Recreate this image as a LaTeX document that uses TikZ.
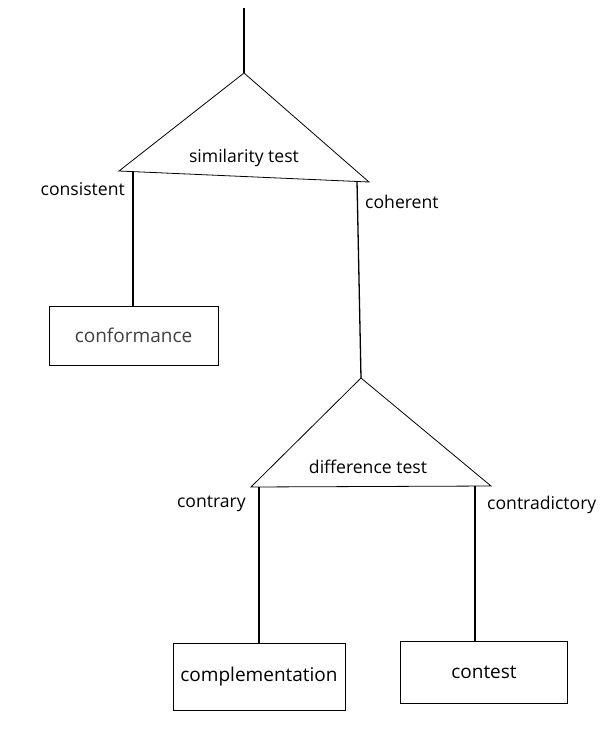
\documentclass[tikz,border=0pt]{standalone}
\usepackage{fontspec}
\setmainfont{Open Sans}
\begin{document}
\begin{tikzpicture}[x=1pt,y=-1pt,
  lbl/.style={font=\fontsize{17.6}{20}\selectfont, inner sep=0pt},
  boxnode/.style={draw, line width=1pt, font=\fontsize{19}{22}\selectfont},
  tri/.style={line width=0.8pt, line join=miter},
  stem/.style={line width=1.3pt}]
\useasboundingbox (0,0) rectangle (613,742);
% similarity triangle
\coordinate (top) at (244,8);
\coordinate (a1) at (244,73);
\coordinate (l1) at (119,171);
\coordinate (r1) at (369,182);
\draw[tri] (a1) -- (l1) -- (r1) -- cycle;
\draw[stem] (top) -- (a1);
\node[lbl] (sim) at (244,158) {similarity test};
% conformance
\node[boxnode, minimum width=169pt, minimum height=59pt, text=black!75] (conf) at (133.5,335.5) {conformance};
\coordinate (cl) at (133,172);
\draw[stem] (cl) -- (conf.north -| cl);
\node[lbl, anchor=east] (cons) at (125,189) {consistent};
% coherent branch
\coordinate (cr) at (357,181);
\coordinate (a2) at (361,378);
\draw[stem] (cr) -- (a2);
\node[lbl, anchor=west] (coh) at (365,202) {coherent};
% difference triangle
\coordinate (l2) at (251,487);
\coordinate (r2) at (491,486);
\draw[tri] (a2) -- (l2) -- (r2) -- cycle;
\node[lbl] (diff) at (368,467) {difference test};
% complementation
\node[boxnode, minimum width=172pt, minimum height=67pt] (comp) at (259,676.5) {complementation};
\coordinate (dl) at (259,487);
\draw[stem] (dl) -- (comp.north -| dl);
\node[lbl, anchor=east] (contr) at (246,504) {contrary};
% contest
\node[boxnode, minimum width=167pt, minimum height=62pt] (cont) at (484,672) {contest};
\coordinate (dr) at (475,486);
\draw[stem] (dr) -- (cont.north -| dr);
\node[lbl, anchor=west] (contra) at (487,505) {contradictory};
\end{tikzpicture}
\end{document}
